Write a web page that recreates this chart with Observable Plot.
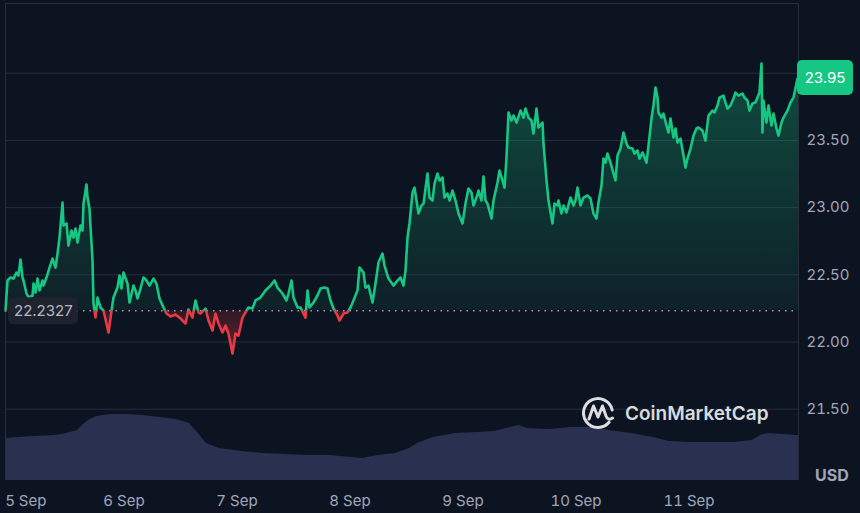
<!DOCTYPE html>
<html>
<head>
<meta charset="utf-8">
<script src="https://cdn.jsdelivr.net/npm/d3@7"></script>
<script src="https://cdn.jsdelivr.net/npm/@observablehq/plot@0.6"></script>
<style>
html,body{margin:0;padding:0;background:#0d1421;}
#wrap{position:relative;width:860px;height:513px;overflow:hidden;background:#0d1421;font-family:Inter,"Noto Sans",sans-serif;}
#wrap svg{position:absolute;left:0;top:0;}
</style>
</head>
<body>
<div id="wrap"></div>
<script>
// ---------- data ----------
const startUTC = Date.UTC(2023, 8, 5, 0, 0); // 5 Sep, hours are offsets from this
const hours = [
-1.17,-0.74,-0.11,0.53,1.17,1.59,2.02,2.44,2.65,3.29,3.72,4.57,4.78,5.20,5.63,6.05,6.69,6.90,7.54,8.18,8.81,9.45,9.88,10.30,10.94,11.15,11.79,12.21,12.85,13.27,13.70,14.12,14.76,15.19,15.40,16.03,16.25,16.67,17.31,17.52,17.95,18.37,19.01,19.65,20.28,20.71,21.35,21.77,22.62,23.05,23.47,23.89,24.74,25.17,26.02,26.44,26.87,27.50,28.14,28.78,29.42,30.27,30.90,31.54,32.39,33.03,33.88,34.94,36.00,37.06,37.70,38.55,39.19,39.82,
40.25,41.31,41.95,42.80,43.43,44.07,44.92,45.56,46.19,47.04,47.68,48.32,49.17,49.81,50.44,51.29,51.93,52.99,54.05,55.12,55.97,56.60,57.66,58.51,58.94,59.58,60.00,60.85,61.49,62.55,62.98,63.40,64.25,65.10,65.74,66.59,67.22,67.86,68.50,69.35,69.77,70.62,71.47,72.11,72.74,73.59,74.02,74.87,75.29,75.93,76.78,77.42,78.05,78.90,79.33,80.18,81.24,82.09,82.73,
83.37,83.79,84.22,84.64,85.28,85.70,86.13,86.55,87.19,87.62,88.46,88.89,89.53,89.95,90.59,91.01,91.65,92.08,92.71,93.14,93.77,94.41,95.05,95.90,96.53,97.17,97.81,98.23,98.87,99.30,99.93,100.36,100.78,101.21,102.06,102.48,103.33,103.76,104.39,104.82,105.24,105.67,106.30,106.73,107.37,108.22,108.85,109.28,109.91,110.55,110.97,111.61,112.04,112.89,113.10,113.74,114.16,115.01,115.44,116.07,116.29,116.92,117.35,117.98,118.83,119.47,119.89,120.32,120.96,121.59,122.44,123.08,123.72,124.35,124.78,
125.42,125.84,126.27,126.69,127.33,127.97,128.39,128.82,129.45,130.09,130.73,131.15,132.00,132.43,133.06,133.49,134.13,134.55,134.98,135.40,136.04,136.46,136.89,137.31,137.52,138.16,138.58,139.22,139.65,140.07,140.71,141.13,141.56,142.20,142.83,143.26,143.68,144.32,144.96,145.59,146.02,146.87,147.50,148.14,148.99,149.41,150.05,150.48,151.33,151.75,152.18,152.81,153.45,153.87,154.51,155.36,155.79,156.42,156.85,157.49,158.12,158.55,158.97,159.40,159.61,159.82,160.46,160.89,161.52,161.95,162.59,163.01,163.65,164.07,164.92,165.56,166.20,167.05,167.26
];
const prices = [
22.233,22.458,22.480,22.472,22.517,22.495,22.614,22.480,22.458,22.361,22.331,22.346,22.435,22.368,22.472,22.383,22.458,22.420,22.480,22.554,22.621,22.554,22.658,22.777,23.038,22.867,22.882,22.718,22.830,22.777,22.844,22.740,22.867,22.830,23.030,23.172,23.075,22.993,22.606,22.286,22.182,22.331,22.257,22.234,22.138,22.071,22.234,22.331,22.405,22.495,22.398,22.517,22.435,22.294,22.420,22.383,22.324,22.398,22.480,22.458,22.420,22.472,22.435,22.324,22.257,22.212,22.190,22.205,22.175,22.138,22.242,22.182,22.309,22.220,
22.212,22.249,22.160,22.085,22.212,22.138,22.071,22.123,22.063,21.914,22.063,22.048,22.182,22.220,22.257,22.249,22.309,22.331,22.383,22.420,22.458,22.405,22.361,22.309,22.361,22.458,22.331,22.257,22.257,22.182,22.383,22.257,22.294,22.346,22.398,22.405,22.398,22.309,22.249,22.197,22.160,22.212,22.220,22.257,22.309,22.383,22.554,22.517,22.405,22.420,22.294,22.435,22.591,22.658,22.569,22.472,22.420,22.458,22.480,
22.420,22.532,22.778,22.882,23.112,23.149,23.053,22.956,23.016,23.030,23.254,23.075,23.053,23.179,23.254,23.202,23.224,23.075,23.105,23.053,23.127,23.053,22.956,22.882,23.030,23.142,23.112,23.016,23.075,23.127,23.053,23.231,23.053,23.030,22.919,23.053,23.187,23.276,23.202,23.149,23.373,23.708,23.648,23.685,23.633,23.722,23.670,23.737,23.670,23.648,23.551,23.737,23.596,23.633,23.477,23.202,23.053,22.882,23.030,23.016,23.053,22.956,23.016,22.964,23.075,23.016,23.053,23.149,23.016,23.075,23.090,23.068,22.956,22.919,23.038,
23.164,23.365,23.335,23.402,23.335,23.254,23.202,23.388,23.440,23.559,23.477,23.447,23.440,23.402,23.425,23.365,23.410,23.373,23.335,23.462,23.663,23.760,23.894,23.819,23.708,23.670,23.700,23.611,23.559,23.663,23.522,23.589,23.484,23.514,23.388,23.298,23.365,23.440,23.536,23.589,23.596,23.574,23.499,23.685,23.722,23.708,23.760,23.819,23.834,23.782,23.737,23.760,23.812,23.856,23.834,23.849,23.819,23.797,23.722,23.775,23.782,23.819,23.856,24.072,23.559,23.797,23.633,23.760,23.611,23.700,23.589,23.536,23.633,23.670,23.722,23.782,23.819,23.960,23.950
];
const baseline = 22.2327;
const volHours = [-1.17,4.78,9.45,11.79,14.12,15.19,16.46,18.16,21.13,24.53,28.14,31.54,35.15,37.91,39.61,41.52,44.28,48.95,53.63,58.30,62.98,67.65,72.32,74.66,78.05,81.67,84.64,86.34,89.74,94.41,99.08,102.69,106.09,107.79,109.70,114.37,118.83,123.50,127.12,131.79,136.46,139.86,144.53,149.20,153.87,157.49,159.19,160.89,164.28,166.62,167.26];
const volumes = [35.2,36.9,37.7,39.4,41.9,46.1,50.3,53.7,55.3,55.3,54.5,52.8,51.2,47.8,40.3,31.0,26.8,24.3,22.6,21.8,21.0,21.0,19.3,18.4,21.0,22.6,26.8,31.0,36.1,39.4,40.3,41.1,44.4,46.1,43.6,42.8,44.4,44.4,41.9,39.4,36.1,32.7,31.9,31.9,31.9,33.5,37.7,39.4,38.6,37.7,37.7];
const dayTicks = ["2023-09-06","2023-09-07","2023-09-08","2023-09-09","2023-09-10","2023-09-11"];
const firstDay = "2023-09-05";
const yTicks = [21.5, 22, 22.5, 23, 23.5];
const gridValues = [21.5, 22, 22.5, 23, 23.5, 24];
const unitLabel = "USD";
const brand = "CoinMarketCap";

// ---------- build ----------
const wrap = document.getElementById("wrap");
if (hours.length !== prices.length || volHours.length !== volumes.length) {
  wrap.insertAdjacentHTML("beforeend", `<div style="position:absolute;left:300px;top:20px;color:yellow;z-index:9">LEN ${hours.length} ${prices.length} ${volHours.length} ${volumes.length}</div>`);
}
const toDate = h => new Date(startUTC + h * 3600e3);
const priceData = hours.map((h, i) => ({date: toDate(h), price: prices[i]}));
const volData = volHours.map((h, i) => ({date: toDate(h), vol: volumes[i]}));

const W = 860, H = 513, mT = 3, mB = 33, mL = 5, mR = 62;
const xDomain = [priceData[0].date, priceData[priceData.length - 1].date];
const yDomain = [20.9695, 24.519];
const GREEN = "#16c784", RED = "#ea3943", GRID = "#282c3a", TXT = "#a1a7bb";
const font = "Inter, 'Noto Sans', sans-serif";

const volPlot = Plot.plot({
  width: W, height: H, marginTop: mT, marginBottom: mB, marginLeft: mL, marginRight: mR,
  style: {background: "#0d1421"},
  x: {type: "utc", domain: xDomain, axis: null},
  y: {domain: [0, 400], axis: null},
  marks: [
    Plot.areaY(volData, {x: "date", y: "vol", fill: "#2a3050", curve: "linear"})
  ]
});
wrap.appendChild(volPlot);

const pricePlot = Plot.plot({
  width: W, height: H, marginTop: mT, marginBottom: mB, marginLeft: mL, marginRight: mR,
  style: {background: "transparent", color: TXT, fontFamily: font, fontSize: "15px", overflow: "visible"},
  x: {type: "utc", domain: xDomain, label: null},
  y: {domain: yDomain, label: null},
  marks: [
    Plot.ruleY(gridValues, {stroke: GRID, strokeWidth: 1}),
    Plot.ruleY([yDomain[1]], {stroke: GRID, strokeWidth: 1}),
    Plot.ruleX(xDomain, {stroke: GRID, strokeWidth: 1}),
    Plot.areaY(priceData, {x: "date", y1: () => baseline, y2: "price", fill: "url(#gUp)"}),
    Plot.areaY(priceData, {x: "date", y1: () => baseline, y2: "price", fill: "url(#gDown)"}),
    Plot.ruleY([baseline], {stroke: "#c9ccd6", strokeOpacity: 0.75, strokeWidth: 1.3, strokeDasharray: "1.5,5"}),
    Plot.lineY(priceData, {x: "date", y: "price", stroke: GREEN, strokeWidth: 2.6, strokeLinejoin: "round"}),
    Plot.lineY(priceData, {x: "date", y: "price", stroke: RED, strokeWidth: 2.6, strokeLinejoin: "round"}),
    Plot.axisY(yTicks, {anchor: "right", label: null, tickSize: 0, tickPadding: 8, tickFormat: d => d.toFixed(2), fill: TXT, fontSize: 15}),
    Plot.axisX(dayTicks.map(d => new Date(d)), {label: null, tickSize: 0, tickPadding: 15, tickFormat: d => `${d.getUTCDate()} Sep`, fill: TXT, fontSize: 15}),
    Plot.text([new Date(firstDay)], {x: d => d, frameAnchor: "bottom", lineAnchor: "top", dy: 15, dx: -5.5, textAnchor: "start", text: d => `${d.getUTCDate()} Sep`, fill: TXT, fontSize: 15})
  ]
});
wrap.appendChild(pricePlot);

// clipping + gradients so the line is green above the opening price and red below it
const yS = pricePlot.scale("y");
const yb = yS.apply(baseline);
const svgP = d3.select(pricePlot);
const defs = svgP.insert("defs", ":first-child");
defs.append("clipPath").attr("id", "cUp").append("rect").attr("x", 0).attr("y", 0).attr("width", W).attr("height", yb);
defs.append("clipPath").attr("id", "cDown").append("rect").attr("x", 0).attr("y", yb).attr("width", W).attr("height", H - yb);
const gUp = defs.append("linearGradient").attr("id", "gUp").attr("gradientUnits", "userSpaceOnUse")
  .attr("x1", 0).attr("x2", 0).attr("y1", yS.apply(24)).attr("y2", yb);
gUp.append("stop").attr("offset", 0).attr("stop-color", GREEN).attr("stop-opacity", 0.30);
gUp.append("stop").attr("offset", 1).attr("stop-color", GREEN).attr("stop-opacity", 0.07);
const gDown = defs.append("linearGradient").attr("id", "gDown").attr("gradientUnits", "userSpaceOnUse")
  .attr("x1", 0).attr("x2", 0).attr("y1", yb).attr("y2", yS.apply(21.9));
gDown.append("stop").attr("offset", 0).attr("stop-color", RED).attr("stop-opacity", 0.15);
gDown.append("stop").attr("offset", 1).attr("stop-color", RED).attr("stop-opacity", 0.4);
const areas = svgP.selectAll('g[aria-label="area"]').nodes();
const lines = svgP.selectAll('g[aria-label="line"]').nodes();
if (areas[0]) areas[0].setAttribute("clip-path", "url(#cUp)");
if (areas[1]) areas[1].setAttribute("clip-path", "url(#cDown)");
if (lines[0]) lines[0].setAttribute("clip-path", "url(#cUp)");
if (lines[1]) lines[1].setAttribute("clip-path", "url(#cDown)");

// ---------- overlay: price tags, unit, watermark ----------
const ov = d3.select(wrap).append("svg").attr("width", W).attr("height", H).style("font-family", font);
const lastPrice = prices[prices.length - 1];
const yl = yS.apply(lastPrice) - 2;
ov.append("rect").attr("x", 797).attr("y", yl - 17.5).attr("width", 56).attr("height", 35).attr("rx", 5).attr("fill", GREEN);
ov.append("text").attr("x", 825).attr("y", yl).attr("dy", "0.35em").attr("text-anchor", "middle")
  .attr("fill", "#ffffff").attr("font-size", 15).text(lastPrice.toFixed(2));

ov.append("rect").attr("x", 8).attr("y", yb - 13).attr("width", 70).attr("height", 27).attr("rx", 6)
  .attr("fill", "#20242f").attr("fill-opacity", 0.92);
ov.append("text").attr("x", 14).attr("y", yb + 1).attr("dy", "0.35em").attr("fill", "#b4b8c6")
  .attr("font-size", 15).text(String(baseline));

ov.append("text").attr("x", 815).attr("y", 481).attr("fill", TXT).attr("font-size", 16).attr("font-weight", 700).text(unitLabel);

const logo = ov.append("g").attr("fill", "none").attr("stroke", "#eef0f4").attr("stroke-width", 3)
  .attr("stroke-linecap", "round").attr("stroke-linejoin", "round").attr("opacity", 0.92);
const cx = 598, cy = 413, r = 14.5;
const a0 = 40 * Math.PI / 180, a1 = -12 * Math.PI / 180;
logo.append("path").attr("d", `M${cx + r * Math.cos(a0)},${cy + r * Math.sin(a0)} A${r},${r} 0 1 1 ${cx + r * Math.cos(a1)},${cy + r * Math.sin(a1)}`);
logo.append("path").attr("d", "M589,419 L593.5,406 L598,417 L602.5,406 L606,416 Q608,421 612.5,418");
ov.append("text").attr("x", 625).attr("y", 420).attr("fill", "#eef0f4").attr("fill-opacity", 0.92)
  .attr("font-size", 19).attr("font-weight", 600).text(brand);
</script>
</body>
</html>
